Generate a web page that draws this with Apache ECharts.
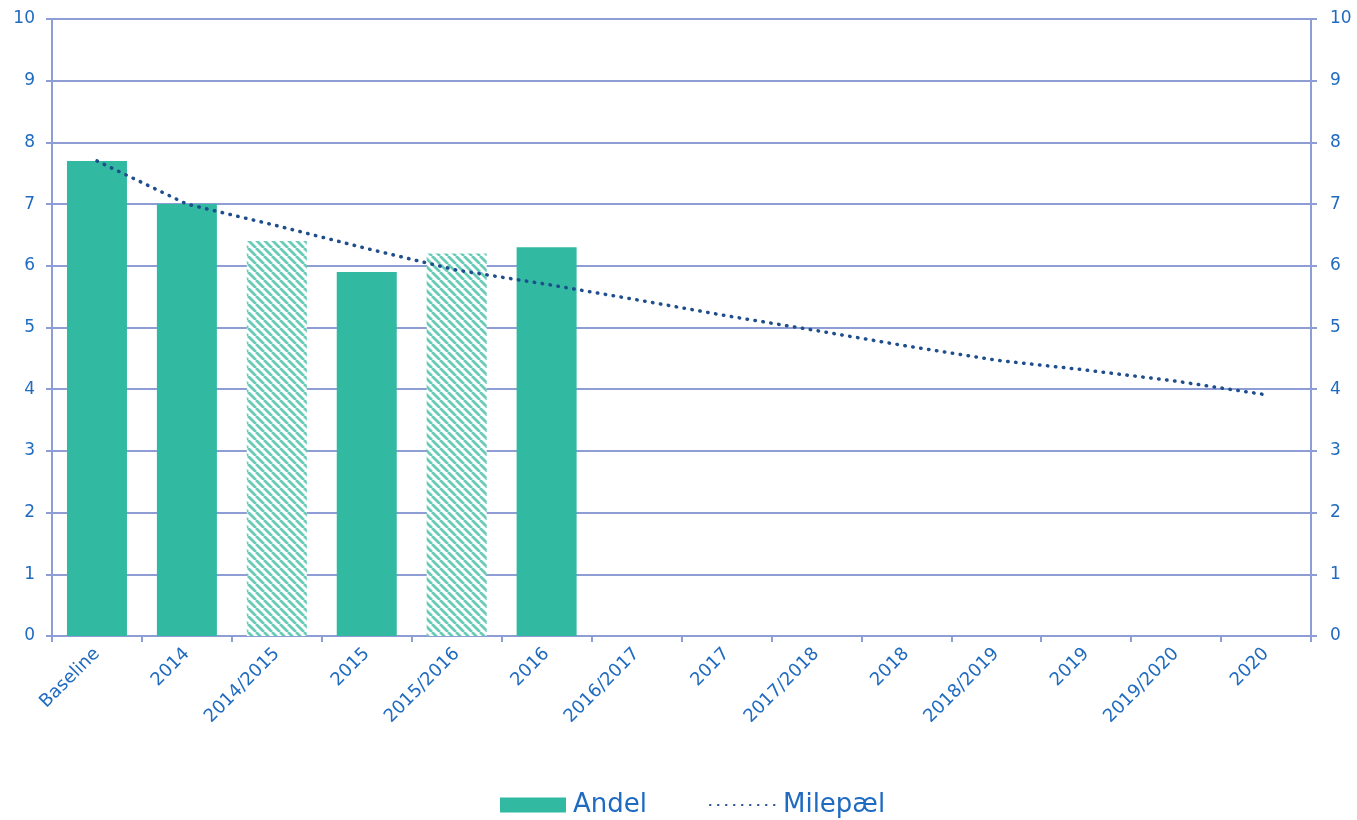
<!DOCTYPE html>
<html>
<head>
<meta charset="utf-8">
<script src="https://cdn.jsdelivr.net/npm/echarts@6/dist/echarts.min.js"></script>
<style>
html,body{margin:0;padding:0;background:#fff;}
#chart{width:1357px;height:820px;}
</style>
</head>
<body>
<div id="chart"></div>
<script>
const categories = ['Baseline','2014','2014/2015','2015','2015/2016','2016','2016/2017','2017','2017/2018','2018','2018/2019','2019','2019/2020','2020'];
const andelValues = [7.7, 7.0, 6.4, 5.9, 6.2, 6.3, null, null, null, null, null, null, null, null];
const andelHatched = [false, false, true, false, true, false, false, false, false, false, false, false, false, false];
const milepaelValues = [7.7, 7.0, 6.65, 6.28, 5.93, 5.70, 5.45, 5.19, 4.95, 4.70, 4.47, 4.31, 4.13, 3.91];
const yTicks = [0,1,2,3,4,5,6,7,8,9,10];

const teal = '#31B9A2';
const labelColor = '#1F6BC0';
const gridColor = '#8E9ED4';

// diagonal stripe pattern
const pc = document.createElement('canvas');
pc.width = 8; pc.height = 8;
const ctx = pc.getContext('2d');
ctx.fillStyle = '#ffffff';
ctx.fillRect(0,0,8,8);
ctx.strokeStyle = '#66CCB8';
ctx.lineWidth = 2.8;
ctx.beginPath();
for (let k = -8; k <= 16; k += 8) {
  ctx.moveTo(k, 0); ctx.lineTo(k + 8, 8);
}
ctx.stroke();

const barData = andelValues.map((v, i) => {
  if (andelHatched[i]) {
    return { value: v, itemStyle: { color: { image: pc, repeat: 'repeat' } } };
  }
  return v;
});

const chart = echarts.init(document.getElementById('chart'), null, { renderer: 'canvas' });
const font = 'DejaVu Sans, Verdana, sans-serif';
const yAxisCommon = {
  type: 'value', min: 0, max: 10, interval: 1,
  axisLine: { show: true, lineStyle: { color: gridColor, width: 2 } },
  axisTick: { show: true, length: 6, lineStyle: { color: gridColor, width: 2 } },
  splitLine: { show: true, lineStyle: { color: gridColor, width: 2 } },
  axisLabel: { color: labelColor, fontSize: 17, fontFamily: font, margin: 17,
    formatter: v => yTicks.includes(v) ? String(v) : '' }
};
chart.setOption({
  animation: false,
  backgroundColor: '#fff',
  grid: { left: 52, right: 46, top: 19, bottom: 184, containLabel: false },
  legend: {
    bottom: -3, left: 495, itemGap: 62, itemWidth: 66, itemHeight: 15,
    textStyle: { color: labelColor, fontSize: 26, fontFamily: font, padding: [0, 0, 0, 2] },
    data: [
      { name: 'Andel', icon: 'rect' },
      { name: 'Milepæl', itemStyle: { opacity: 0 } }
    ]
  },
  xAxis: {
    type: 'category', data: categories, boundaryGap: true,
    axisLine: { show: true, lineStyle: { color: gridColor, width: 2 } },
    axisTick: { show: true, length: 6, alignWithLabel: false, lineStyle: { color: gridColor, width: 2 } },
    axisLabel: { color: labelColor, fontSize: 18, fontFamily: font, rotate: 45, margin: 15, interval: 0 }
  },
  yAxis: [
    Object.assign({}, yAxisCommon, { position: 'left' }),
    Object.assign({}, yAxisCommon, { position: 'right', splitLine: { show: false },
      axisLabel: Object.assign({}, yAxisCommon.axisLabel, { margin: 19 }) })
  ],
  series: [
    {
      name: 'Andel', type: 'bar', data: barData, barWidth: 60,
      itemStyle: { color: teal }
    },
    {
      name: 'Milepæl', type: 'line', data: milepaelValues, symbol: 'none',
      itemStyle: { color: '#1F4E8C' },
      lineStyle: { color: '#1F4E8C', width: 3.5, type: [0.5, 7.5], cap: 'round' },
      z: 5
    }
  ]
});
</script>
</body>
</html>
